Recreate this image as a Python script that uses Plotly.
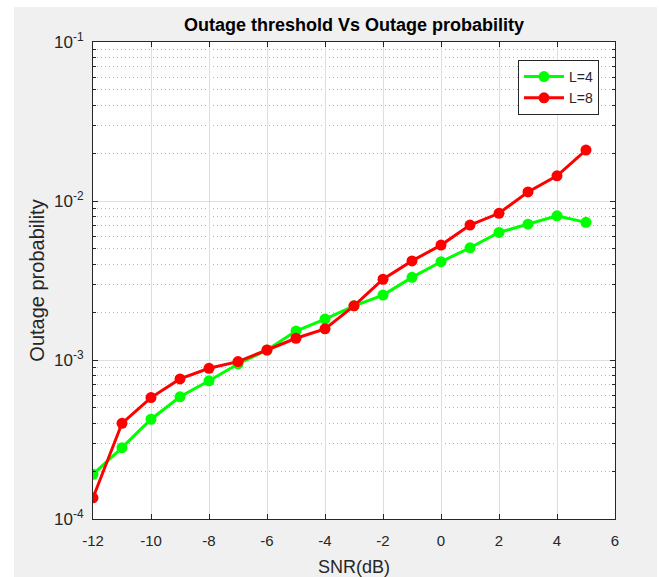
import plotly.graph_objects as go

snr = [-12, -11, -10, -9, -8, -7, -6, -5, -4, -3, -2, -1, 0, 1, 2, 3, 4, 5]
p_L4 = [1.91e-4, 2.81e-4, 4.24e-4, 5.87e-4, 7.4e-4, 9.44e-4, 1.156e-3, 1.52e-3, 1.81e-3,
        2.19e-3, 2.56e-3, 3.31e-3, 4.15e-3, 5.08e-3, 6.34e-3, 7.15e-3, 8.07e-3, 7.34e-3]
p_L8 = [1.36e-4, 4.0e-4, 5.8e-4, 7.6e-4, 8.87e-4, 9.77e-4, 1.156e-3, 1.37e-3, 1.57e-3,
        2.19e-3, 3.22e-3, 4.2e-3, 5.28e-3, 7.06e-3, 8.37e-3, 1.14e-2, 1.44e-2, 2.09e-2]
series_names = ["L=4", "L=8"]
series_colors = ["#00ff00", "#ff0000"]

y_major = [1e-4, 1e-3, 1e-2, 1e-1]
y_major_text = ["10<sup>-4</sup>", "10<sup>-3</sup>", "10<sup>-2</sup>", "10<sup>-1</sup>"]
y_minor = [m * 10.0 ** e for e in (-4, -3, -2) for m in range(2, 10)]
x_ticks = [-12, -10, -8, -6, -4, -2, 0, 2, 4, 6]

W, H = 659, 577
L, R, T, B = 93, 44, 42, 58
pw, ph = W - L - R, H - T - B

def px(xp):
    return (xp - L) / pw

def py(yp):
    return (H - B - yp) / ph

fig = go.Figure()
for vals, name, col in zip([p_L4, p_L8], series_names, series_colors):
    fig.add_trace(go.Scatter(
        x=snr, y=vals, name=name, mode="lines+markers",
        line=dict(color=col, width=3),
        marker=dict(color=col, size=11, symbol="circle"),
    ))

axis_col = "#262626"
font_fam = "Liberation Sans, Arial, sans-serif"

white_strips = [
    (0, 14, 0, 577),     # left strip
    (0, 659, 0, 7),      # top strip
    (657, 659, 0, 577),  # right strip
]
shapes = [dict(type="rect", xref="paper", yref="paper",
               x0=px(a), x1=px(b), y0=py(d), y1=py(c),
               fillcolor="white", line=dict(width=0), layer="below")
          for a, b, c, d in white_strips]

fig.update_layout(
    width=W, height=H,
    margin=dict(l=L, r=R, t=T, b=B, autoexpand=False),
    paper_bgcolor="#f0f0f0",
    plot_bgcolor="white",
    font=dict(family=font_fam, color=axis_col, size=15),
    title=dict(text="<b>Outage threshold Vs Outage probability</b>",
               x=0.5, xref="paper", xanchor="center",
               y=1 - 25 / H, yanchor="middle",
               font=dict(size=18, color="black", family=font_fam)),
    showlegend=True,
    legend=dict(x=px(599), xanchor="right", y=py(60), yanchor="top",
                bgcolor="white", bordercolor=axis_col, borderwidth=1,
                font=dict(size=14, color=axis_col),
                itemwidth=40, tracegroupgap=2),
    shapes=shapes,
)

fig.update_xaxes(
    range=[-12, 6], tickvals=x_ticks, ticktext=[str(v) for v in x_ticks],
    showline=True, linecolor=axis_col, linewidth=1, mirror="ticks",
    ticks="inside", ticklen=5, tickcolor=axis_col,
    showgrid=True, gridcolor="#dedede", gridwidth=1,
    zeroline=False, ticklabelstandoff=8, automargin=False,
    tickfont=dict(size=15, color=axis_col),
    title=dict(text="SNR(dB)", font=dict(size=18, color=axis_col), standoff=12),
)
fig.update_yaxes(
    type="log", range=[-4, -1],
    tickvals=y_major, ticktext=y_major_text,
    showline=True, linecolor=axis_col, linewidth=1, mirror="ticks",
    ticks="inside", ticklen=5, tickcolor=axis_col,
    showgrid=True, gridcolor="#dedede", gridwidth=1,
    zeroline=False, ticklabelstandoff=5, automargin=False,
    tickfont=dict(size=17, color=axis_col),
    minor=dict(tickvals=y_minor, ticks="inside", ticklen=3, tickcolor=axis_col,
               showgrid=True, gridcolor="#b4b4b4", griddash="1px,3px", gridwidth=1),
    title=dict(text="Outage probability", font=dict(size=20, color=axis_col), standoff=4),
)

fig.write_html("out.html")
